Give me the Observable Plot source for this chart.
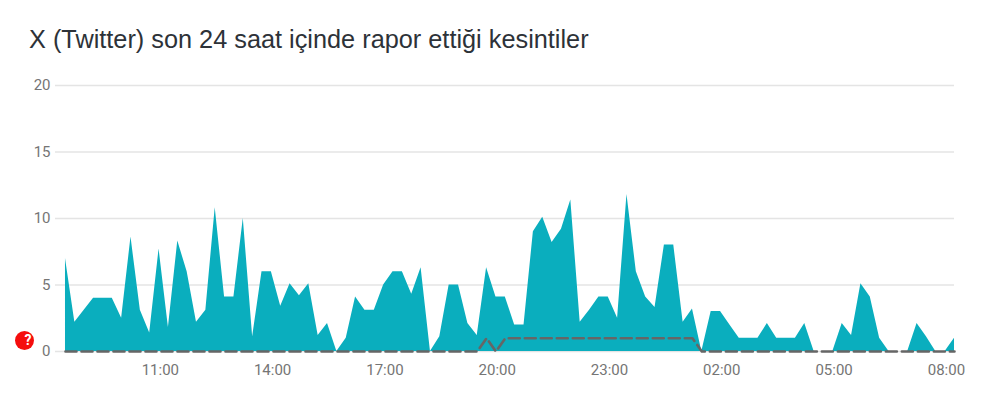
<!DOCTYPE html>
<html><head><meta charset="utf-8">
<script src="https://cdn.jsdelivr.net/npm/d3@7"></script>
<script src="https://cdn.jsdelivr.net/npm/@observablehq/plot@0.6"></script>
<style>
html,body{margin:0;padding:0;background:#fff;width:1000px;height:418px;overflow:hidden}
#title{position:absolute;left:29px;top:24px;font:25.3px/30px "Liberation Sans",Arial,sans-serif;color:#2d3238;white-space:nowrap}
#chart{position:absolute;left:0;top:60px}
</style></head><body>
<div id="title"></div><div id="chart"></div>
<script>
const titleText = "X (Twitter) son 24 saat içinde rapor ettiği kesintiler";
const reports = [7,2.2,3.1,4,4,4,2.5,8.6,3.1,1.4,7.7,1.8,8.3,6,2.2,3.1,10.8,4.1,4.1,10,1.1,6,6,3.4,5.1,4.2,5.1,1.2,2.1,0,1,4.1,3.1,3.1,5,6,6,4.3,6.3,0,1.1,5,5,2.1,1.2,6.3,4.1,4.1,2,2,9,10.1,8.2,9.2,11.4,2.2,3.1,4.1,4.1,2.5,11.8,6,4.1,3.3,8,8,2.2,3.2,0,3,3,2,1,1,1,2.1,1,1,1,2.1,0,0,0,2.1,1.2,5.1,4.1,1,0,0,0,2.1,1.1,0,0,1];
const baseline = [0,0,0,0,0,0,0,0,0,0,0,0,0,0,0,0,0,0,0,0,0,0,0,0,0,0,0,0,0,0,0,0,0,0,0,0,0,0,0,0,0,0,0,0,0,1,0,1,1,1,1,1,1,1,1,1,1,1,1,1,1,1,1,1,1,1,1,1,0,0,0,0,0,0,0,0,0,0,0,0,0,0,0,0,0,0,0,0,0,0,0,0,0,0,0,0];
const yTicks = [0,5,10,15,20];
const tickLabels = ["11:00","14:00","17:00","20:00","23:00","02:00","05:00","08:00"];
const tickHours = [11,14,17,20,23,26,29,32];
const startMinutes = 8*60+28, stepMinutes = 15;
const t = m => new Date(Date.UTC(2024,0,1,0,m));
const rows = reports.map((v,i)=>({time:t(startMinutes+i*stepMinutes),reports:v,baseline:baseline[i]}));
const tickDates = tickHours.map(h=>t(h*60));
const labelByTime = new Map(tickDates.map((d,i)=>[+d,tickLabels[i]]));
document.getElementById("title").textContent = titleText;
const plot = Plot.plot({
  width:1000,height:358,
  marginLeft:55,marginRight:46,marginTop:25,marginBottom:67,
  style:{background:"#fff",fontFamily:"Roboto, Arial, sans-serif"},
  x:{type:"utc",domain:[t(startMinutes-16),t(startMinutes+95*stepMinutes)],label:null},
  y:{domain:[0,20],label:null},
  marks:[
    Plot.gridY(yTicks,{stroke:"#e4e4e4",strokeOpacity:1,strokeWidth:1.3}),
    Plot.axisY(yTicks,{tickSize:0,tickPadding:5,fontSize:15,fill:"#757575",label:null}),
    Plot.axisX(tickDates,{tickSize:0,tickPadding:13,fontSize:15,fill:"#757575",tickFormat:d=>labelByTime.get(+d),label:null}),
    Plot.areaY(rows,{x:"time",y:"reports",fill:"#0aaebe"}),
    Plot.lineY(rows,{x:"time",y:"baseline",stroke:"#666",strokeWidth:2.6,strokeDasharray:"11,5"}),
    Plot.dot([0],{frameAnchor:"bottom-left",dx:-31,dy:-11,r:9.5,fill:"#f50d0d"}),
    Plot.text(["?"],{frameAnchor:"bottom-left",lineAnchor:"middle",dx:-31,dy:-11,fill:"#fff",fontSize:14,fontWeight:"bold"})
  ]
});
document.getElementById("chart").appendChild(plot);
</script></body></html>
